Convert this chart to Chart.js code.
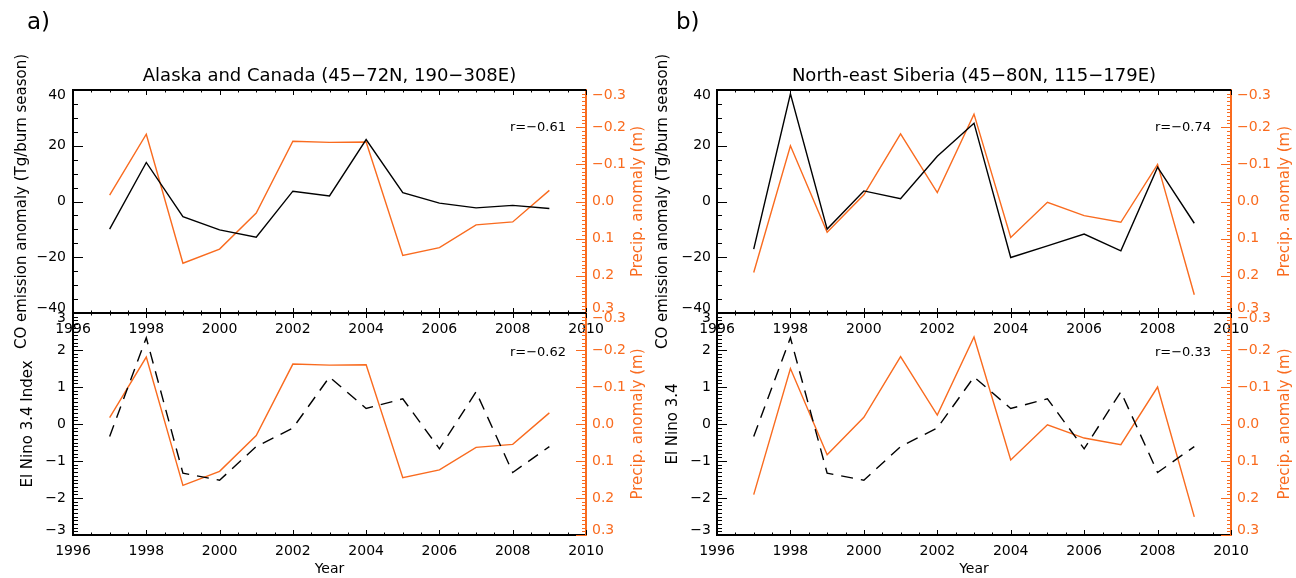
<!DOCTYPE html>
<html lang="en">
<head>
  <meta charset="UTF-8" />
  <title>CO emission, precipitation and El Nino anomalies</title>
  <script src="https://cdn.jsdelivr.net/npm/chart.js"></script>
  <style>
    html, body { margin: 0; padding: 0; background: #fff; }
    #wrap { position: relative; width: 1296px; height: 578px; overflow: hidden; background: #fff; }
    #wrap canvas { position: absolute; left: 0; top: 0; }
  </style>
</head>
<body>
  <div id="wrap">
    <canvas id="aTop" width="1296" height="578"></canvas>
    <canvas id="aBottom" width="1296" height="578"></canvas>
    <canvas id="bTop" width="1296" height="578"></canvas>
    <canvas id="bBottom" width="1296" height="578"></canvas>
  </div>

  <script>
    // values, one per burn season 1997-2009
    const years = [1997, 1998, 1999, 2000, 2001, 2002, 2003, 2004, 2005, 2006, 2007, 2008, 2009];
    const coAlaska = [-9.9, 14.0, -5.4, -10.2, -12.8, 3.7, 2.0, 22.2, 3.2, -0.6, -2.3, -1.4, -2.5];
    const precipAlaska = [-0.017, -0.181, 0.166, 0.128, 0.031, -0.162, -0.159, -0.160, 0.145, 0.124, 0.063, 0.055, -0.030];
    const coSiberia = [-17.1, 38.6, -9.9, 3.8, 1.0, 16.2, 28.1, -20.1, -15.9, -11.7, -17.7, 12.3, -7.8];
    const precipSiberia = [0.191, -0.150, 0.083, -0.018, -0.182, -0.024, -0.235, 0.097, 0.002, 0.038, 0.056, -0.100, 0.251];
    const nino34 = [-0.34, 2.33, -1.33, -1.52, -0.61, -0.11, 1.27, 0.42, 0.68, -0.67, 0.87, -1.31, -0.61];

    const ORANGE = '#f96b1f';
    const MINUS = '\u2212';

    Chart.defaults.font.family = "'DejaVu Sans', sans-serif";
    Chart.defaults.color = '#000';

    function steps(min, max, step) {
      const out = [];
      const n = Math.round((max - min) / step);
      for (let i = 0; i <= n; i++) out.push(min + i * step);
      return out;
    }
    function isMult(v, step) {
      const q = v / step;
      return Math.abs(q - Math.round(q)) < 1e-6;
    }

    // IDL-style inward ticks, top frame line and the extra texts
    const idlAxes = {
      id: 'idlAxes',
      afterDraw(chart, args, o) {
        const { ctx, chartArea: a, scales } = chart;
        ctx.save();
        ctx.lineWidth = 1;

        ctx.strokeStyle = '#000';
        ctx.beginPath();
        steps(scales.x.min, scales.x.max, 0.5).forEach(v => {
          const x = Math.round(scales.x.getPixelForValue(v)) + 0.5;
          const len = isMult(v, 2) ? 5 : 2.5;
          ctx.moveTo(x, a.bottom); ctx.lineTo(x, a.bottom - len);
          ctx.moveTo(x, a.top); ctx.lineTo(x, a.top + len);
        });
        steps(scales.y.min, scales.y.max, o.leftMinor).forEach(v => {
          const y = Math.round(scales.y.getPixelForValue(v)) + 0.5;
          const len = isMult(v, o.leftMajor) ? 10 : 5;
          ctx.moveTo(a.left, y); ctx.lineTo(a.left + len, y);
        });
        ctx.stroke();

        ctx.strokeStyle = ORANGE;
        ctx.beginPath();
        steps(-0.3, 0.3, 0.01).forEach(v => {
          const y = Math.round(scales.y2.getPixelForValue(v)) + 0.5;
          const len = isMult(v, 0.1) ? 10 : 4;
          ctx.moveTo(a.right, y); ctx.lineTo(a.right - len, y);
        });
        ctx.stroke();

        // top frame
        ctx.strokeStyle = '#000';
        ctx.lineWidth = 2;
        ctx.beginPath();
        ctx.moveTo(a.left, a.top); ctx.lineTo(a.right, a.top);
        ctx.stroke();

        // correlation
        ctx.fillStyle = '#000';
        ctx.font = "13px 'DejaVu Sans'";
        ctx.textAlign = 'right';
        ctx.textBaseline = 'middle';
        ctx.fillText(o.r, a.right - 20, a.top + o.rDy);

        // right axis title, reading upwards like the left one
        ctx.save();
        ctx.translate(a.right + o.rightTitleDx, (a.top + a.bottom) / 2);
        ctx.rotate(-Math.PI / 2);
        ctx.fillStyle = ORANGE;
        ctx.font = "15px 'DejaVu Sans'";
        ctx.textAlign = 'center';
        ctx.fillText('Precip. anomaly (m)', 0, 0);
        ctx.restore();

        if (o.tag) {
          ctx.fillStyle = '#000';
          ctx.font = "23px 'DejaVu Sans'";
          ctx.textAlign = 'left';
          ctx.textBaseline = 'alphabetic';
          ctx.fillText(o.tag, o.tagX, 29);
        }
        ctx.restore();
      }
    };

    function num(v, digits) {
      if (Math.abs(v) < 1e-9) v = 0;
      const s = v.toFixed(digits);
      return s.replace('-', MINUS);
    }

    // labels at the ends of the range are nudged inside, as IDL does
    function endLabels(bottomVal, topVal, digits) {
      return v => {
        const s = num(v, digits);
        if (Math.abs(v - topVal) < 1e-9) return ['', s];
        if (Math.abs(v - bottomVal) < 1e-9) return [s, ''];
        return s;
      };
    }

    function panel(p) {
      return {
        type: 'line',
        data: {
          datasets: [
            {
              data: years.map((yr, i) => ({ x: yr, y: p.left[i] })),
              yAxisID: 'y',
              borderColor: '#000',
              borderWidth: 1.4,
              borderDash: p.dash || [],
              pointRadius: 0,
              tension: 0
            },
            {
              data: years.map((yr, i) => ({ x: yr, y: p.precip[i] })),
              yAxisID: 'y2',
              borderColor: ORANGE,
              borderWidth: 1.4,
              pointRadius: 0,
              tension: 0
            }
          ]
        },
        options: {
          responsive: false,
          animation: false,
          events: [],
          layout: { padding: { left: p.padLeft, right: p.padRight, top: p.padTop, bottom: p.padBottom } },
          plugins: {
            legend: { display: false },
            tooltip: { enabled: false },
            title: {
              display: !!p.title,
              text: p.title,
              fullSize: false,
              font: { size: 18, weight: 'normal' },
              color: '#000',
              padding: { top: 66, bottom: 2.4 }
            },
            idlAxes: {
              leftMajor: p.leftMajor,
              leftMinor: p.leftMinor,
              r: p.r,
              rDy: p.rDy,
              rightTitleDx: p.rightTitleDx,
              tag: p.tag,
              tagX: p.tagX
            }
          },
          scales: {
            x: {
              type: 'linear',
              min: 1996,
              max: 2010,
              grid: { display: false, drawTicks: false, tickLength: 0 },
              border: { display: true, color: '#000', width: 2 },
              ticks: { stepSize: 2, autoSkip: false, maxRotation: 0, padding: 8, font: { size: 14 }, callback: v => String(v) },
              title: { display: !!p.xTitle, text: p.xTitle, font: { size: 14 }, padding: { top: 0, bottom: 0 } },
              afterFit: s => { s.height = p.xHeight; }
            },
            y: {
              position: 'left',
              min: p.min,
              max: p.max,
              grid: { display: false, drawTicks: false, tickLength: 0 },
              border: { display: true, color: '#000', width: 2 },
              ticks: { stepSize: p.leftMajor, padding: p.tickPadLeft, font: { size: 14, lineHeight: 0.72 }, callback: endLabels(p.min, p.max, 0) },
              title: { display: true, text: p.yTitle, font: { size: 15 }, padding: { top: p.yTitlePad, bottom: 0 } },
              afterFit: s => { s.width = p.yWidth; }
            },
            y2: {
              position: 'right',
              reverse: true,
              min: -0.3,
              max: 0.3,
              grid: { display: false, drawTicks: false, tickLength: 0 },
              border: { display: true, color: ORANGE, width: 2 },
              ticks: { stepSize: 0.1, color: ORANGE, padding: 6, font: { size: 14, lineHeight: 0.72 }, callback: endLabels(0.3, -0.3, 1) },
              afterFit: s => { s.width = 60; }
            }
          }
        },
        plugins: [idlAxes]
      };
    }

    const coTitle = 'CO emission anomaly (Tg/burn season)';

    new Chart(document.getElementById('aTop'), panel({
      left: coAlaska, precip: precipAlaska, min: -40, max: 40, leftMajor: 20, leftMinor: 5,
      title: 'Alaska and Canada (45' + MINUS + '72N, 190' + MINUS + '308E)',
      yTitle: coTitle, yTitlePad: 13.5, yWidth: 73, tickPadLeft: 7,
      padLeft: 0, padRight: 650, padTop: 0, padBottom: 235, xHeight: 30,
      r: 'r=' + MINUS + '0.61', rDy: 38, rightTitleDx: 52.5, tag: 'a)', tagX: 27
    }));

    new Chart(document.getElementById('aBottom'), panel({
      left: nino34, precip: precipAlaska, min: -3, max: 3, leftMajor: 1, leftMinor: 0.1, dash: [12, 8],
      yTitle: 'El Nino 3.4 Index', yTitlePad: 19.5, yWidth: 73, tickPadLeft: 7, xTitle: 'Year',
      padLeft: 0, padRight: 650, padTop: 313, padBottom: 0, xHeight: 43,
      r: 'r=' + MINUS + '0.62', rDy: 40, rightTitleDx: 52.5
    }));

    new Chart(document.getElementById('bTop'), panel({
      left: coSiberia, precip: precipSiberia, min: -40, max: 40, leftMajor: 20, leftMinor: 5,
      title: 'North-east Siberia (45' + MINUS + '80N, 115' + MINUS + '179E)',
      yTitle: coTitle, yTitlePad: 6.5, yWidth: 69, tickPadLeft: 6,
      padLeft: 648, padRight: 5, padTop: 0, padBottom: 235, xHeight: 30,
      r: 'r=' + MINUS + '0.74', rDy: 38, rightTitleDx: 54.5, tag: 'b)', tagX: 676
    }));

    new Chart(document.getElementById('bBottom'), panel({
      left: nino34, precip: precipSiberia, min: -3, max: 3, leftMajor: 1, leftMinor: 0.1, dash: [12, 8],
      yTitle: 'El Nino 3.4', yTitlePad: 16.5, yWidth: 69, tickPadLeft: 6, xTitle: 'Year',
      padLeft: 648, padRight: 5, padTop: 313, padBottom: 0, xHeight: 43,
      r: 'r=' + MINUS + '0.33', rDy: 40, rightTitleDx: 54.5
    }));
  </script>
</body>
</html>
